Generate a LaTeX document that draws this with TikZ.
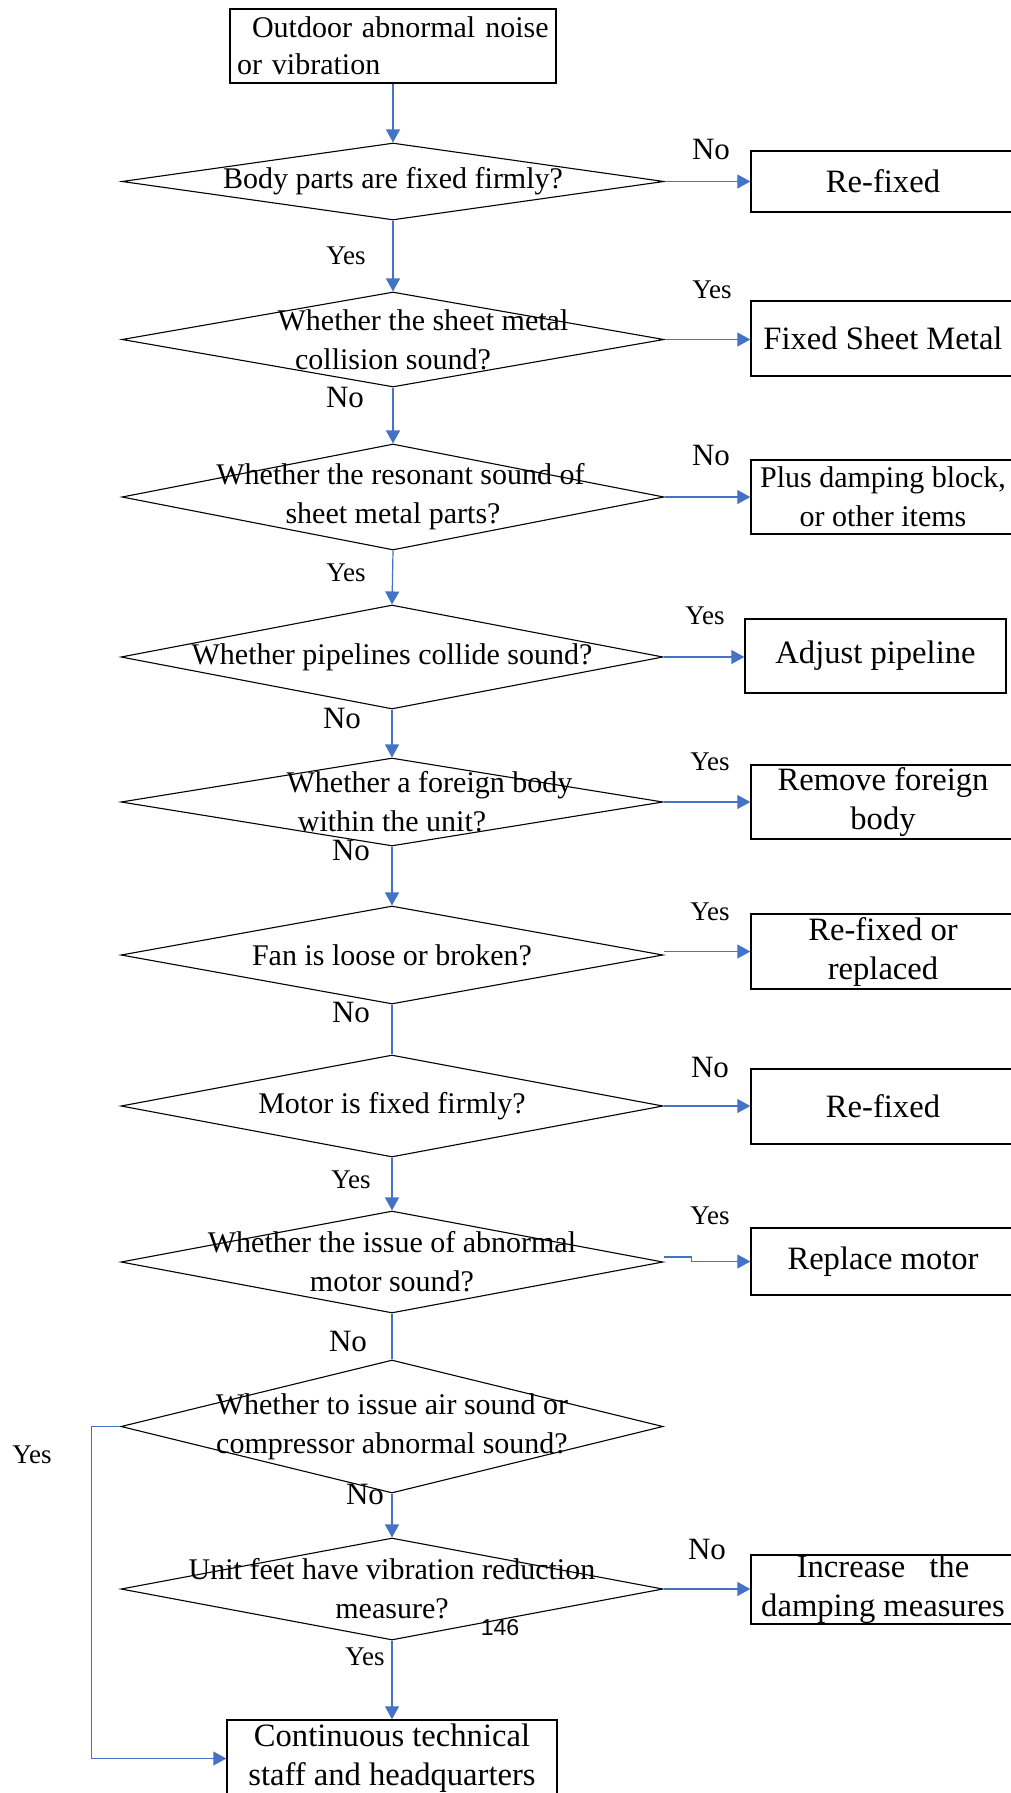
\documentclass[tikz,border=0pt]{standalone}
\usepackage{fontspec}
\setmainfont{Liberation Serif}
\newfontfamily\pagenumfont{Liberation Sans}
\usepackage{tikz}
\usetikzlibrary{arrows.meta,positioning,shapes.geometric}
\definecolor{flowblue}{RGB}{68,114,196}

\begin{document}
\begin{tikzpicture}[
  x=0.5pt,y=-0.5pt,
  box/.style={draw,line width=0.7pt,minimum width=132pt,inner sep=0pt,align=center,font=\fontsize{16.3}{19.5}\selectfont},
  dec/.style={draw,diamond,minimum width=271pt,inner sep=0pt,line width=0.55pt},
  dtxt/.style={inner sep=0pt,align=center,font=\fontsize{15}{19.5}\selectfont},
  yes/.style={inner sep=0pt,font=\fontsize{13.5}{16}\selectfont},
  no/.style={inner sep=0pt,font=\fontsize{15.5}{18}\selectfont},
  wire/.style={color=flowblue,line width=0.6pt},
  arr/.style={wire,-{Triangle[length=6.5pt,width=7pt]}}
]
\clip (0,0) rectangle (1011,1793);

% ---- start and decisions (main column) ----
\node[draw,line width=0.7pt,minimum width=163pt,minimum height=37pt,inner sep=0pt,
      text width=156pt,align=left,font=\fontsize{15}{18.5}\selectfont] (start) at (393,46)
   {\hspace*{7.5pt}Outdoor abnormal noise\\or vibration};

\node[dec,minimum height=38.5pt] (d1) at (393,181.5) {};
\node[dtxt] (t1) at (d1) {Body parts are fixed firmly?};
\node[dec,minimum height=47.5pt] (d2) at (393,339.5) {};
\node[dtxt] (t2) at (d2) {\hspace*{30pt}Whether the sheet metal\\collision sound?};
\node[dec,minimum height=53pt] (d3) at (393,497) {};
\node[dtxt] (t3) at (d3) {\hspace*{7.5pt}Whether the resonant sound of\\sheet metal parts?};
\node[dec,minimum height=52pt] (d4) at (392,657) {};
\node[dtxt] (t4) at (d4) {Whether pipelines collide sound?};
\node[dec,minimum height=44pt] (d5) at (392,802) {};
\node[dtxt] (t5) at (d5) {\hspace*{37.5pt}Whether a foreign body\\within the unit?};
\node[dec,minimum height=49pt] (d6) at (392,955) {};
\node[dtxt] (t6) at (d6) {Fan is loose or broken?};
\node[dec,minimum height=51pt] (d7) at (392,1106) {};
\node[dtxt] (t7) at (d7) {Motor is fixed firmly?};
\node[dec,minimum height=51pt] (d8) at (392,1262) {};
\node[dtxt] (t8) at (d8) {Whether the issue of abnormal\\motor sound?};
\node[dec,minimum height=66.5pt] (d9) at (392,1426.5) {};
\node[dtxt] (t9) at (d9) {Whether to issue air sound or\\compressor abnormal sound?};
\node[dec,minimum height=51pt] (d10) at (392,1589) {};
\node[dtxt] (t10) at (d10) {Unit feet have vibration reduction\\measure?};

\node[box,minimum width=165pt,minimum height=38.5pt] (fin) at (392,1758.5)
   {Continuous technical\\staff and headquarters};

% ---- action boxes (right column) ----
\node[box,minimum height=30.5pt] (b1) at (883,181.5) {Re-fixed};
\node[box,minimum height=37.5pt] (b2) at (883,338.5) {Fixed Sheet Metal};
\node[box,minimum height=37pt,font=\fontsize{15}{19.5}\selectfont] (b3) at (883,497) {Plus damping block,\\or other items};
\node[box,minimum width=130.5pt,minimum height=37pt] (b4) at (875.5,656) {Adjust pipeline};
\node[box,minimum height=37pt] (b5) at (883,802) {Remove foreign\\body};
\node[box,minimum height=37.5pt] (b6) at (883,951.5) {Re-fixed or\\replaced};
\node[box,minimum height=37.5pt] (b7) at (883,1106.5) {Re-fixed};
\node[box,minimum height=33.5pt] (b8) at (883,1261.5) {Replace motor};
\node[box,minimum height=33.5pt] (b10) at (883,1589.5) {Increase\hspace{12pt}the\\damping measures};

% ---- connectors ----
\draw[arr] (start.south) -- (d1.north);
\draw[arr] (d1.south) -- (d2.north);
\draw[arr] (d2.south) -- (d3.north);
\draw[arr] (d3.south) -- (d4.north);
\draw[arr] (d4.south) -- (d5.north);
\draw[arr] (d5.south) -- (d6.north);
\draw[wire] (d6.south) -- (d7.north);
\draw[arr] (d7.south) -- (d8.north);
\draw[wire] (d8.south) -- (d9.north);
\draw[arr] (d9.south) -- (d10.north);
\draw[arr] (d10.south) -- (fin.north);
\draw[arr] (d9.west) -- ++(-29,0) |- (fin.west);

\draw[arr] (d1.east) -- (d1.east -| b1.west);
\draw[arr] (d2.east) -- (d2.east -| b2.west);
\draw[arr] (d3.east) -- (d3.east -| b3.west);
\draw[arr] (d4.east) -- (d4.east -| b4.west);
\draw[arr] (d5.east) -- (d5.east -| b5.west);
\draw[arr] (d6.east |- b6.west) -- (b6.west);
\draw[arr] (d7.east) -- (d7.east -| b7.west);
\draw[arr] ([yshift=2.5pt]d8.east) -- ++(28,0) |- (b8.west);
\draw[arr] (d10.east) -- (d10.east -| b10.west);

% ---- branch labels ----
\node[no]  (n1)  at (711,150)  {No};
\node[yes] (y1)  at (346,256)  {Yes};
\node[yes] (y2)  at (712,290)  {Yes};
\node[no]  (n2)  at (345,397)  {No};
\node[no]  (n3)  at (711,455)  {No};
\node[yes] (y3)  at (346,573)  {Yes};
\node[yes] (y4)  at (705,616)  {Yes};
\node[no]  (n4)  at (342,718)  {No};
\node[yes] (y5)  at (710,762)  {Yes};
\node[no]  (n5)  at (351,850)  {No};
\node[yes] (y6)  at (710,912)  {Yes};
\node[no]  (n6)  at (351,1012) {No};
\node[no]  (n7)  at (710,1067) {No};
\node[yes] (y7)  at (351,1180) {Yes};
\node[yes] (y8)  at (710,1216) {Yes};
\node[no]  (n8)  at (348,1341) {No};
\node[yes] (y9)  at (32,1455)  {Yes};
\node[no]  (n9)  at (365,1494) {No};
\node[no]  (n10) at (707,1549) {No};
\node[yes] (y10) at (365,1657) {Yes};
\node[inner sep=0pt,font=\pagenumfont\fontsize{11.5}{13}\selectfont] (pg) at (500,1628) {146};
\end{tikzpicture}
\end{document}
